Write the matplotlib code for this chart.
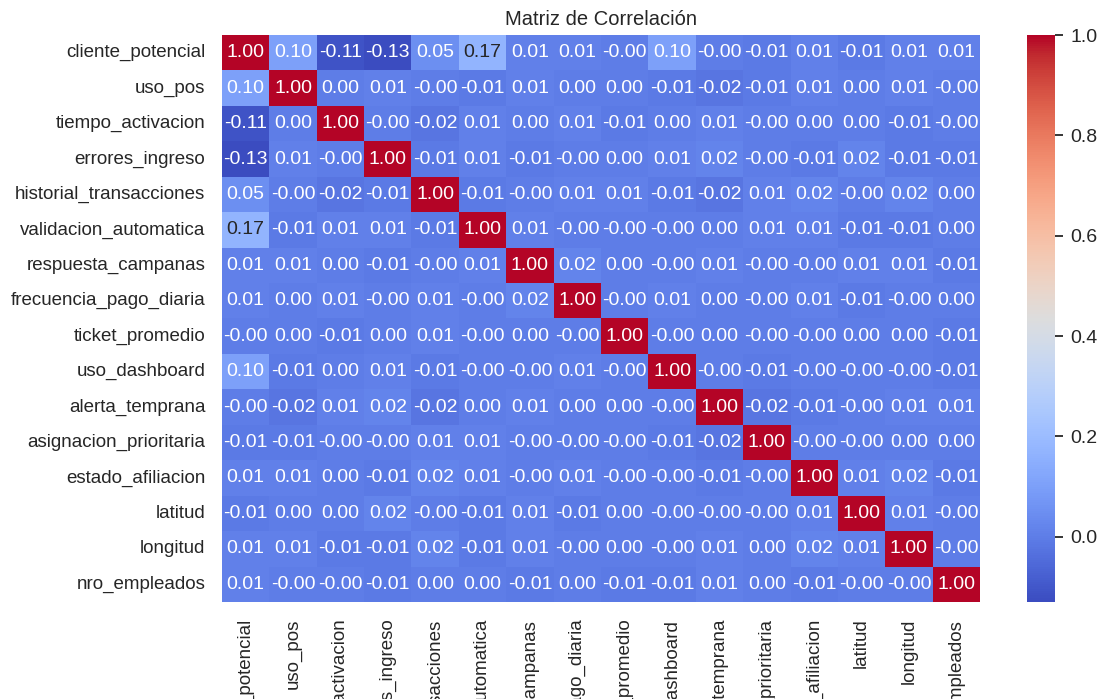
import numpy as np
import pandas as pd
import matplotlib
matplotlib.use("Agg")
import matplotlib.pyplot as plt
import seaborn as sns

variables = [
    "cliente_potencial", "uso_pos", "tiempo_activacion", "errores_ingreso",
    "historial_transacciones", "validacion_automatica", "respuesta_campanas",
    "frecuencia_pago_diaria", "ticket_promedio", "uso_dashboard",
    "alerta_temprana", "asignacion_prioritaria", "estado_afiliacion",
    "latitud", "longitud", "nro_empleados",
]

corr_rows = [
    [1.00, 0.10, -0.11, -0.13, 0.05, 0.17, 0.01, 0.01, -0.00, 0.10, -0.00, -0.01, 0.01, -0.01, 0.01, 0.01],
    [0.10, 1.00, 0.00, 0.01, -0.00, -0.01, 0.01, 0.00, 0.00, -0.01, -0.02, -0.01, 0.01, 0.00, 0.01, -0.00],
    [-0.11, 0.00, 1.00, -0.00, -0.02, 0.01, 0.00, 0.01, -0.01, 0.00, 0.01, -0.00, 0.00, 0.00, -0.01, -0.00],
    [-0.13, 0.01, -0.00, 1.00, -0.01, 0.01, -0.01, -0.00, 0.00, 0.01, 0.02, -0.00, -0.01, 0.02, -0.01, -0.01],
    [0.05, -0.00, -0.02, -0.01, 1.00, -0.01, -0.00, 0.01, 0.01, -0.01, -0.02, 0.01, 0.02, -0.00, 0.02, 0.00],
    [0.17, -0.01, 0.01, 0.01, -0.01, 1.00, 0.01, -0.00, -0.00, -0.00, 0.00, 0.01, 0.01, -0.01, -0.01, 0.00],
    [0.01, 0.01, 0.00, -0.01, -0.00, 0.01, 1.00, 0.02, 0.00, -0.00, 0.01, -0.00, -0.00, 0.01, 0.01, -0.01],
    [0.01, 0.00, 0.01, -0.00, 0.01, -0.00, 0.02, 1.00, -0.00, 0.01, 0.00, -0.00, 0.01, -0.01, -0.00, 0.00],
    [-0.00, 0.00, -0.01, 0.00, 0.01, -0.00, 0.00, -0.00, 1.00, -0.00, 0.00, -0.00, -0.00, 0.00, 0.00, -0.01],
    [0.10, -0.01, 0.00, 0.01, -0.01, -0.00, -0.00, 0.01, -0.00, 1.00, -0.00, -0.01, -0.00, -0.00, -0.00, -0.01],
    [-0.00, -0.02, 0.01, 0.02, -0.02, 0.00, 0.01, 0.00, 0.00, -0.00, 1.00, -0.02, -0.01, -0.00, 0.01, 0.01],
    [-0.01, -0.01, -0.00, -0.00, 0.01, 0.01, -0.00, -0.00, -0.00, -0.01, -0.02, 1.00, -0.00, -0.00, 0.00, 0.00],
    [0.01, 0.01, 0.00, -0.01, 0.02, 0.01, -0.00, 0.01, -0.00, -0.00, -0.01, -0.00, 1.00, 0.01, 0.02, -0.01],
    [-0.01, 0.00, 0.00, 0.02, -0.00, -0.01, 0.01, -0.01, 0.00, -0.00, -0.00, -0.00, 0.01, 1.00, 0.01, -0.00],
    [0.01, 0.01, -0.01, -0.01, 0.02, -0.01, 0.01, -0.00, 0.00, -0.00, 0.01, 0.00, 0.02, 0.01, 1.00, -0.00],
    [0.01, -0.00, -0.00, -0.01, 0.00, 0.00, -0.01, 0.00, -0.01, -0.01, 0.01, 0.00, -0.01, -0.00, -0.00, 1.00],
]

corr = pd.DataFrame(np.array(corr_rows), index=variables, columns=variables)

sns.set_theme(style="white")
plt.rcParams["font.family"] = ["Liberation Sans", "DejaVu Sans"]

fig = plt.figure(figsize=(11.06, 6.99), dpi=100)
ax = fig.add_axes([0.2007, 0.1388, 0.6854, 0.8111])
cax = fig.add_axes([0.9286, 0.1388, 0.0253, 0.8111])

sns.heatmap(
    corr, annot=True, fmt=".2f", cmap="coolwarm", ax=ax, cbar_ax=cax,
    annot_kws={"fontsize": 14},
)

ax.set_title("Matriz de Correlación", fontsize=14.5, color="#262626", pad=7)
ax.tick_params(axis="both", length=0, labelsize=13.5, colors="#262626", pad=12)
ax.set_xticklabels(variables, rotation=90)
ax.set_yticklabels(variables, rotation=0)

cax.tick_params(length=6, width=1.3, labelsize=14, colors="#262626", pad=5)
cax.set_yticks([0.0, 0.2, 0.4, 0.6, 0.8, 1.0])
for spine in cax.spines.values():
    spine.set_visible(False)

fig.savefig("out.png", dpi=100)
